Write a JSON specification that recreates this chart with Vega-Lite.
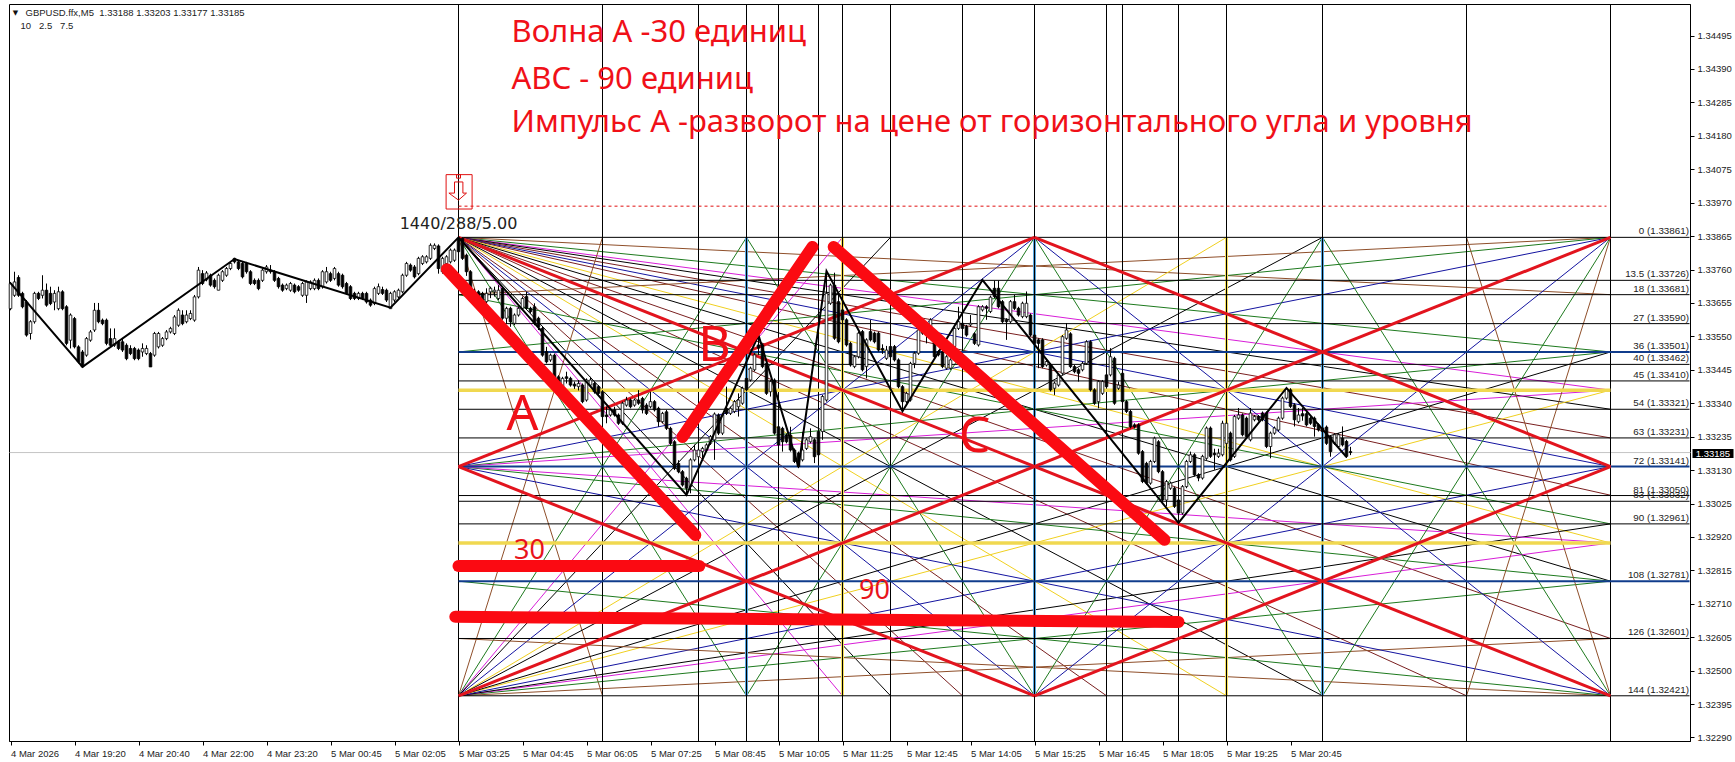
{"$schema":"https://vega.github.io/schema/vega-lite/v6.json","width":1681,"height":737,"autosize":"none","padding":{"left":9,"top":4,"right":45,"bottom":21},"background":"white","config":{"view":{"stroke":"#000","strokeWidth":1},"text":{"font":"Liberation Sans"}},
"datasets":{"rules":[
{"x":-112.25,"x2":308,"y":1.33185,"y2":1.33185,"k":"gray"},
{"x":0,"y":1.33861,"x2":288,"y2":1.33681,"k":"brown"},{"x":0,"y":1.33861,"x2":288,"y2":1.33501,"k":"green"},{"x":0,"y":1.33861,"x2":288,"y2":1.33381,"k":"magenta"},{"x":0,"y":1.33861,"x2":288,"y2":1.33321,"k":"black"},{"x":0,"y":1.33861,"x2":288,"y2":1.33231,"k":"maroon"},{"x":0,"y":1.33861,"x2":288,"y2":1.33141,"k":"blue"},{"x":0,"y":1.33861,"x2":288,"y2":1.33051,"k":"maroon"},{"x":0,"y":1.33861,"x2":288,"y2":1.32901,"k":"yellow"},{"x":0,"y":1.33861,"x2":288,"y2":1.32781,"k":"black"},{"x":0,"y":1.33861,"x2":288,"y2":1.32601,"k":"maroon"},
{"x":0,"y":1.33861,"x2":36,"y2":1.32421,"k":"brown"},{"x":0,"y":1.33861,"x2":72,"y2":1.32421,"k":"green"},{"x":0,"y":1.33861,"x2":96,"y2":1.32421,"k":"magenta"},{"x":0,"y":1.33861,"x2":108,"y2":1.32421,"k":"black"},{"x":0,"y":1.33861,"x2":126,"y2":1.32421,"k":"maroon"},{"x":0,"y":1.33861,"x2":144,"y2":1.32421,"k":"blue"},{"x":0,"y":1.33861,"x2":162,"y2":1.32421,"k":"maroon"},{"x":0,"y":1.33861,"x2":192,"y2":1.32421,"k":"yellow"},{"x":0,"y":1.33861,"x2":216,"y2":1.32421,"k":"black"},{"x":0,"y":1.33861,"x2":252,"y2":1.32421,"k":"maroon"},
{"x":0,"y":1.32421,"x2":36,"y2":1.33861,"k":"brown"},{"x":0,"y":1.32421,"x2":72,"y2":1.33861,"k":"green"},{"x":0,"y":1.32421,"x2":96,"y2":1.33861,"k":"magenta"},{"x":0,"y":1.32421,"x2":108,"y2":1.33861,"k":"black"},{"x":0,"y":1.32421,"x2":144,"y2":1.33861,"k":"blue"},{"x":0,"y":1.32421,"x2":192,"y2":1.33861,"k":"yellow"},{"x":0,"y":1.32421,"x2":216,"y2":1.33861,"k":"black"},
{"x":0,"y":1.32421,"x2":288,"y2":1.32601,"k":"brown"},{"x":0,"y":1.32421,"x2":288,"y2":1.32781,"k":"green"},{"x":0,"y":1.32421,"x2":288,"y2":1.32901,"k":"magenta"},{"x":0,"y":1.32421,"x2":288,"y2":1.32961,"k":"black"},{"x":0,"y":1.32421,"x2":288,"y2":1.33141,"k":"blue"},{"x":0,"y":1.32421,"x2":288,"y2":1.33381,"k":"yellow"},{"x":0,"y":1.32421,"x2":288,"y2":1.33501,"k":"black"},
{"x":0,"y":1.33141,"x2":288,"y2":1.33861,"k":"blue"},{"x":0,"y":1.33141,"x2":288,"y2":1.32421,"k":"blue"},{"x":0,"y":1.33141,"x2":288,"y2":1.33501,"k":"green"},{"x":0,"y":1.33141,"x2":288,"y2":1.32781,"k":"green"},{"x":0,"y":1.33141,"x2":288,"y2":1.33381,"k":"magenta"},{"x":0,"y":1.33141,"x2":288,"y2":1.32901,"k":"magenta"},
{"x":288,"y":1.33861,"x2":0,"y2":1.33681,"k":"brown"},{"x":288,"y":1.33861,"x2":0,"y2":1.33501,"k":"green"},{"x":288,"y":1.33861,"x2":144,"y2":1.32421,"k":"blue"},{"x":288,"y":1.33861,"x2":216,"y2":1.32421,"k":"green"},{"x":288,"y":1.33861,"x2":252,"y2":1.32421,"k":"brown"},
{"x":288,"y":1.32421,"x2":0,"y2":1.32601,"k":"brown"},{"x":288,"y":1.32421,"x2":0,"y2":1.32781,"k":"green"},{"x":288,"y":1.32421,"x2":144,"y2":1.33861,"k":"blue"},{"x":288,"y":1.32421,"x2":216,"y2":1.33861,"k":"green"},{"x":288,"y":1.32421,"x2":252,"y2":1.33861,"k":"brown"},
{"x":72,"y":1.33861,"x2":144,"y2":1.32421,"k":"green"},{"x":144,"y":1.33861,"x2":72,"y2":1.32421,"k":"green"},{"x":144,"y":1.33861,"x2":216,"y2":1.32421,"k":"green"},{"x":216,"y":1.33861,"x2":144,"y2":1.32421,"k":"green"},{"x":0,"y":1.33681,"x2":288,"y2":1.32961,"k":"green"},
{"x":72,"y":1.33861,"x2":72,"y2":1.32421,"k":"vblue"},{"x":144,"y":1.33861,"x2":144,"y2":1.32421,"k":"vblue"},{"x":216,"y":1.33861,"x2":216,"y2":1.32421,"k":"vblue"},{"x":96,"y":1.33861,"x2":96,"y2":1.32421,"k":"vyellow"},{"x":192,"y":1.33861,"x2":192,"y2":1.32421,"k":"vyellow"},
{"x":0,"y":1.34594,"x2":0,"y2":1.32279,"k":"black"},{"x":36,"y":1.34594,"x2":36,"y2":1.32279,"k":"black"},{"x":60,"y":1.34594,"x2":60,"y2":1.32279,"k":"black"},{"x":72,"y":1.34594,"x2":72,"y2":1.32279,"k":"black"},{"x":80,"y":1.34594,"x2":80,"y2":1.32279,"k":"black"},{"x":90,"y":1.34594,"x2":90,"y2":1.32279,"k":"black"},{"x":96,"y":1.34594,"x2":96,"y2":1.32279,"k":"black"},{"x":108,"y":1.34594,"x2":108,"y2":1.32279,"k":"black"},{"x":126,"y":1.34594,"x2":126,"y2":1.32279,"k":"black"},{"x":144,"y":1.34594,"x2":144,"y2":1.32279,"k":"black"},{"x":162,"y":1.34594,"x2":162,"y2":1.32279,"k":"black"},{"x":166,"y":1.34594,"x2":166,"y2":1.32279,"k":"black"},{"x":180,"y":1.34594,"x2":180,"y2":1.32279,"k":"black"},{"x":192,"y":1.34594,"x2":192,"y2":1.32279,"k":"black"},{"x":216,"y":1.34594,"x2":216,"y2":1.32279,"k":"black"},{"x":252,"y":1.34594,"x2":252,"y2":1.32279,"k":"black"},{"x":288,"y":1.34594,"x2":288,"y2":1.32279,"k":"black"},
{"x":0,"y":1.33381,"x2":288,"y2":1.33381,"k":"gold"},{"x":0,"y":1.32901,"x2":288,"y2":1.32901,"k":"gold"},
{"x":0,"y":1.33861,"x2":307.75,"y2":1.33861,"k":"black"},{"x":0,"y":1.33726,"x2":307.75,"y2":1.33726,"k":"black"},{"x":0,"y":1.33681,"x2":307.75,"y2":1.33681,"k":"black"},{"x":0,"y":1.33590,"x2":307.75,"y2":1.33590,"k":"black"},{"x":0,"y":1.33501,"x2":307.75,"y2":1.33501,"k":"navy"},{"x":0,"y":1.33462,"x2":307.75,"y2":1.33462,"k":"black"},{"x":0,"y":1.33410,"x2":307.75,"y2":1.33410,"k":"black"},{"x":0,"y":1.33321,"x2":307.75,"y2":1.33321,"k":"black"},{"x":0,"y":1.33231,"x2":307.75,"y2":1.33231,"k":"black"},{"x":0,"y":1.33141,"x2":307.75,"y2":1.33141,"k":"navy"},{"x":0,"y":1.33050,"x2":307.75,"y2":1.33050,"k":"black"},{"x":0,"y":1.33032,"x2":307.75,"y2":1.33032,"k":"black"},{"x":0,"y":1.32961,"x2":307.75,"y2":1.32961,"k":"black"},{"x":0,"y":1.32781,"x2":307.75,"y2":1.32781,"k":"navy"},{"x":0,"y":1.32601,"x2":307.75,"y2":1.32601,"k":"black"},{"x":0,"y":1.32421,"x2":307.75,"y2":1.32421,"k":"black"},
{"x":0,"y":1.33141,"x2":144,"y2":1.33861,"k":"red"},{"x":144,"y":1.33861,"x2":288,"y2":1.33141,"k":"red"},{"x":288,"y":1.33141,"x2":144,"y2":1.32421,"k":"red"},{"x":144,"y":1.32421,"x2":0,"y2":1.33141,"k":"red"},{"x":0,"y":1.33861,"x2":288,"y2":1.32421,"k":"red"},{"x":0,"y":1.32421,"x2":288,"y2":1.33861,"k":"red"}
],
"candles":[
{"x":-112,"o":1.33637,"h":1.33721,"l":1.33632,"c":1.33716},{"x":-111,"o":1.33679,"h":1.33753,"l":1.33674,"c":1.33721},{"x":-110,"o":1.33735,"h":1.33742,"l":1.33674,"c":1.33679},{"x":-109,"o":1.33685,"h":1.3369,"l":1.33638,"c":1.33643},{"x":-108,"o":1.33658,"h":1.33664,"l":1.33549,"c":1.33554},{"x":-107,"o":1.33559,"h":1.33601,"l":1.3354,"c":1.33596},{"x":-106,"o":1.33596,"h":1.3369,"l":1.3359,"c":1.33685},{"x":-105,"o":1.33685,"h":1.3369,"l":1.33664,"c":1.33669},{"x":-104,"o":1.33679,"h":1.33742,"l":1.33669,"c":1.33695},{"x":-103,"o":1.33695,"h":1.33716,"l":1.33643,"c":1.33648},{"x":-102,"o":1.33685,"h":1.33706,"l":1.33648,"c":1.33653},{"x":-101,"o":1.33658,"h":1.33695,"l":1.33632,"c":1.33685},{"x":-100,"o":1.33637,"h":1.33706,"l":1.33632,"c":1.3369},{"x":-99,"o":1.3369,"h":1.33695,"l":1.33632,"c":1.33637},{"x":-98,"o":1.33643,"h":1.33648,"l":1.33522,"c":1.33528},{"x":-97,"o":1.33538,"h":1.33622,"l":1.33512,"c":1.33617},{"x":-96,"o":1.33606,"h":1.33611,"l":1.33512,"c":1.33517},{"x":-95,"o":1.33517,"h":1.33522,"l":1.33465,"c":1.3347},{"x":-94,"o":1.33501,"h":1.33507,"l":1.33454,"c":1.33454},{"x":-93,"o":1.33491,"h":1.33548,"l":1.33486,"c":1.33543},{"x":-92,"o":1.33538,"h":1.3357,"l":1.33533,"c":1.33564},{"x":-91,"o":1.3357,"h":1.33655,"l":1.33564,"c":1.33632},{"x":-90,"o":1.33632,"h":1.33655,"l":1.33591,"c":1.33596},{"x":-89,"o":1.33601,"h":1.33606,"l":1.33585,"c":1.3359},{"x":-88,"o":1.33601,"h":1.33606,"l":1.33522,"c":1.33528},{"x":-87,"o":1.33543,"h":1.33575,"l":1.33517,"c":1.33522},{"x":-86,"o":1.33522,"h":1.33575,"l":1.33517,"c":1.33543},{"x":-85,"o":1.33533,"h":1.33538,"l":1.33507,"c":1.33512},{"x":-84,"o":1.33533,"h":1.33543,"l":1.33501,"c":1.33507},{"x":-83,"o":1.33522,"h":1.33528,"l":1.33475,"c":1.3348},{"x":-82,"o":1.33512,"h":1.33522,"l":1.33491,"c":1.33496},{"x":-81,"o":1.33512,"h":1.33517,"l":1.33475,"c":1.3348},{"x":-80,"o":1.33507,"h":1.33512,"l":1.33475,"c":1.3348},{"x":-79,"o":1.33501,"h":1.33528,"l":1.33486,"c":1.33512},{"x":-78,"o":1.33496,"h":1.33522,"l":1.33491,"c":1.33512},{"x":-77,"o":1.33496,"h":1.33501,"l":1.33454,"c":1.33454},{"x":-76,"o":1.33491,"h":1.33564,"l":1.33486,"c":1.33559},{"x":-75,"o":1.33517,"h":1.33564,"l":1.33512,"c":1.33559},{"x":-74,"o":1.33522,"h":1.33548,"l":1.33517,"c":1.33543},{"x":-73,"o":1.33543,"h":1.3357,"l":1.33538,"c":1.33564},{"x":-72,"o":1.33564,"h":1.3358,"l":1.33559,"c":1.33575},{"x":-71,"o":1.33559,"h":1.33617,"l":1.33554,"c":1.33611},{"x":-70,"o":1.33585,"h":1.33638,"l":1.3358,"c":1.33632},{"x":-69,"o":1.33617,"h":1.33632,"l":1.33585,"c":1.3359},{"x":-68,"o":1.33596,"h":1.33632,"l":1.33591,"c":1.33617},{"x":-67,"o":1.33606,"h":1.33632,"l":1.33601,"c":1.33622},{"x":-66,"o":1.33601,"h":1.3368,"l":1.33596,"c":1.33674},{"x":-65,"o":1.33674,"h":1.33768,"l":1.33669,"c":1.33758},{"x":-64,"o":1.33747,"h":1.33758,"l":1.33711,"c":1.33716},{"x":-63,"o":1.33728,"h":1.33755,"l":1.33723,"c":1.33749},{"x":-62,"o":1.33742,"h":1.33747,"l":1.33706,"c":1.33711},{"x":-61,"o":1.33726,"h":1.33732,"l":1.337,"c":1.33706},{"x":-60,"o":1.33695,"h":1.33747,"l":1.33695,"c":1.33742},{"x":-59,"o":1.33726,"h":1.33758,"l":1.33721,"c":1.33753},{"x":-58,"o":1.33742,"h":1.33768,"l":1.33737,"c":1.33763},{"x":-57,"o":1.33763,"h":1.33785,"l":1.33758,"c":1.33779},{"x":-56,"o":1.33795,"h":1.33797,"l":1.33779,"c":1.33784},{"x":-55,"o":1.33784,"h":1.3379,"l":1.33758,"c":1.33763},{"x":-54,"o":1.33779,"h":1.33784,"l":1.33732,"c":1.33737},{"x":-53,"o":1.33779,"h":1.33784,"l":1.33747,"c":1.33753},{"x":-52,"o":1.33753,"h":1.33758,"l":1.33711,"c":1.33716},{"x":-51,"o":1.33726,"h":1.33732,"l":1.33711,"c":1.33716},{"x":-50,"o":1.33726,"h":1.33732,"l":1.33695,"c":1.337},{"x":-49,"o":1.33726,"h":1.33763,"l":1.33721,"c":1.33758},{"x":-48,"o":1.33753,"h":1.33774,"l":1.33747,"c":1.33768},{"x":-47,"o":1.33758,"h":1.33774,"l":1.33747,"c":1.33753},{"x":-46,"o":1.33753,"h":1.33758,"l":1.33721,"c":1.33726},{"x":-45,"o":1.33732,"h":1.33737,"l":1.337,"c":1.33706},{"x":-44,"o":1.33711,"h":1.33716,"l":1.3369,"c":1.33695},{"x":-43,"o":1.337,"h":1.33716,"l":1.33695,"c":1.33711},{"x":-42,"o":1.33695,"h":1.33721,"l":1.3369,"c":1.33716},{"x":-41,"o":1.33711,"h":1.33716,"l":1.33685,"c":1.3369},{"x":-40,"o":1.33706,"h":1.33711,"l":1.3369,"c":1.33695},{"x":-39,"o":1.33679,"h":1.33721,"l":1.33674,"c":1.33716},{"x":-38,"o":1.33679,"h":1.33726,"l":1.33655,"c":1.33721},{"x":-37,"o":1.337,"h":1.33726,"l":1.33695,"c":1.33721},{"x":-36,"o":1.337,"h":1.33732,"l":1.33695,"c":1.33726},{"x":-35,"o":1.33726,"h":1.33732,"l":1.33695,"c":1.337},{"x":-34,"o":1.33706,"h":1.33758,"l":1.337,"c":1.33753},{"x":-33,"o":1.33721,"h":1.33768,"l":1.33716,"c":1.33753},{"x":-32,"o":1.33747,"h":1.33753,"l":1.33721,"c":1.33726},{"x":-31,"o":1.33732,"h":1.33768,"l":1.33726,"c":1.33763},{"x":-30,"o":1.33747,"h":1.33753,"l":1.33706,"c":1.33711},{"x":-29,"o":1.33742,"h":1.33747,"l":1.337,"c":1.33706},{"x":-28,"o":1.33716,"h":1.33721,"l":1.3368,"c":1.33685},{"x":-27,"o":1.33706,"h":1.33711,"l":1.33664,"c":1.33669},{"x":-26,"o":1.33685,"h":1.3369,"l":1.33664,"c":1.33669},{"x":-25,"o":1.33669,"h":1.3369,"l":1.33664,"c":1.33685},{"x":-24,"o":1.33685,"h":1.3369,"l":1.33664,"c":1.33669},{"x":-23,"o":1.33685,"h":1.3369,"l":1.33653,"c":1.33658},{"x":-22,"o":1.33664,"h":1.33669,"l":1.33643,"c":1.33648},{"x":-21,"o":1.33653,"h":1.33706,"l":1.33648,"c":1.337},{"x":-20,"o":1.33685,"h":1.33716,"l":1.3368,"c":1.33706},{"x":-19,"o":1.33697,"h":1.33706,"l":1.3368,"c":1.33685},{"x":-18,"o":1.33695,"h":1.337,"l":1.33658,"c":1.33664},{"x":-17,"o":1.33637,"h":1.3369,"l":1.33637,"c":1.33685},{"x":-16,"o":1.33664,"h":1.33695,"l":1.33658,"c":1.3369},{"x":-15,"o":1.33674,"h":1.337,"l":1.33669,"c":1.33695},{"x":-14,"o":1.3369,"h":1.33747,"l":1.33685,"c":1.33742},{"x":-13,"o":1.33742,"h":1.33784,"l":1.33737,"c":1.33779},{"x":-12,"o":1.33774,"h":1.33779,"l":1.33753,"c":1.33758},{"x":-11,"o":1.33768,"h":1.33774,"l":1.33732,"c":1.33737},{"x":-10,"o":1.33747,"h":1.338,"l":1.33742,"c":1.33795},{"x":-9,"o":1.33779,"h":1.33805,"l":1.33774,"c":1.338},{"x":-8,"o":1.33784,"h":1.33805,"l":1.33779,"c":1.338},{"x":-7,"o":1.33795,"h":1.33842,"l":1.3379,"c":1.33836},{"x":-6,"o":1.33826,"h":1.33842,"l":1.33821,"c":1.33836},{"x":-5,"o":1.33834,"h":1.33839,"l":1.33747,"c":1.33763},{"x":-4,"o":1.33753,"h":1.338,"l":1.33747,"c":1.33795},{"x":-3,"o":1.33779,"h":1.33805,"l":1.33774,"c":1.338},{"x":-2,"o":1.33784,"h":1.33826,"l":1.33779,"c":1.33821},{"x":-1,"o":1.33789,"h":1.33826,"l":1.33784,"c":1.33821},
{"x":0,"o":1.33858,"h":1.33861,"l":1.33806,"c":1.33816},{"x":1,"o":1.33858,"h":1.33861,"l":1.3379,"c":1.33795},{"x":2,"o":1.33805,"h":1.3381,"l":1.3374,"c":1.33753},{"x":3,"o":1.33753,"h":1.33758,"l":1.33696,"c":1.33701},{"x":4,"o":1.3369,"h":1.337,"l":1.3367,"c":1.33685},{"x":5,"o":1.3369,"h":1.33695,"l":1.33665,"c":1.33675},{"x":6,"o":1.33685,"h":1.3369,"l":1.3365,"c":1.33659},{"x":7,"o":1.33659,"h":1.33701,"l":1.33654,"c":1.33685},{"x":8,"o":1.3369,"h":1.33706,"l":1.3367,"c":1.33701},{"x":9,"o":1.3369,"h":1.33706,"l":1.33675,"c":1.33695},{"x":10,"o":1.33669,"h":1.33711,"l":1.33664,"c":1.33695},{"x":11,"o":1.33701,"h":1.33706,"l":1.33602,"c":1.33607},{"x":12,"o":1.33607,"h":1.33643,"l":1.3359,"c":1.33638},{"x":13,"o":1.33638,"h":1.33643,"l":1.3358,"c":1.33596},{"x":14,"o":1.33591,"h":1.33622,"l":1.33585,"c":1.33617},{"x":15,"o":1.33617,"h":1.33643,"l":1.33612,"c":1.33638},{"x":16,"o":1.33638,"h":1.33675,"l":1.33633,"c":1.33669},{"x":17,"o":1.33675,"h":1.3369,"l":1.33633,"c":1.33638},{"x":18,"o":1.33638,"h":1.33643,"l":1.33622,"c":1.33628},{"x":19,"o":1.33643,"h":1.33654,"l":1.33585,"c":1.33591},{"x":20,"o":1.33607,"h":1.33612,"l":1.3357,"c":1.3358},{"x":21,"o":1.33575,"h":1.3358,"l":1.33486,"c":1.33491},{"x":22,"o":1.33502,"h":1.33517,"l":1.33465,"c":1.3347},{"x":23,"o":1.33476,"h":1.33496,"l":1.3347,"c":1.33491},{"x":24,"o":1.33491,"h":1.33496,"l":1.33413,"c":1.33418},{"x":25,"o":1.33423,"h":1.33428,"l":1.33382,"c":1.33392},{"x":26,"o":1.33392,"h":1.33423,"l":1.33376,"c":1.33418},{"x":27,"o":1.33423,"h":1.33439,"l":1.33402,"c":1.33418},{"x":28,"o":1.33418,"h":1.33423,"l":1.33392,"c":1.33397},{"x":29,"o":1.334,"h":1.33408,"l":1.33385,"c":1.33394},{"x":30,"o":1.33392,"h":1.33413,"l":1.3338,"c":1.33402},{"x":31,"o":1.33397,"h":1.33402,"l":1.3334,"c":1.33345},{"x":32,"o":1.3335,"h":1.33418,"l":1.33345,"c":1.33413},{"x":33,"o":1.33397,"h":1.33423,"l":1.33392,"c":1.33413},{"x":34,"o":1.33402,"h":1.33408,"l":1.3337,"c":1.33376},{"x":35,"o":1.33392,"h":1.33397,"l":1.33366,"c":1.33371},{"x":36,"o":1.33376,"h":1.33381,"l":1.33293,"c":1.33298},{"x":37,"o":1.33303,"h":1.33329,"l":1.33277,"c":1.33298},{"x":38,"o":1.33303,"h":1.33324,"l":1.33298,"c":1.33319},{"x":39,"o":1.33319,"h":1.33329,"l":1.33298,"c":1.33303},{"x":40,"o":1.33303,"h":1.33308,"l":1.33272,"c":1.33277},{"x":41,"o":1.33277,"h":1.33345,"l":1.33272,"c":1.3334},{"x":42,"o":1.33334,"h":1.3336,"l":1.33329,"c":1.3335},{"x":43,"o":1.3335,"h":1.33355,"l":1.33324,"c":1.33329},{"x":44,"o":1.33334,"h":1.33355,"l":1.33329,"c":1.3335},{"x":45,"o":1.3335,"h":1.33381,"l":1.33335,"c":1.3334},{"x":46,"o":1.33355,"h":1.3336,"l":1.33308,"c":1.33319},{"x":47,"o":1.33334,"h":1.3334,"l":1.33303,"c":1.33308},{"x":48,"o":1.33329,"h":1.33376,"l":1.33324,"c":1.33345},{"x":49,"o":1.33345,"h":1.3335,"l":1.33314,"c":1.33319},{"x":50,"o":1.33324,"h":1.33329,"l":1.33266,"c":1.33282},{"x":51,"o":1.33282,"h":1.33313,"l":1.33277,"c":1.33308},{"x":52,"o":1.33313,"h":1.33319,"l":1.33256,"c":1.33261},{"x":53,"o":1.33261,"h":1.33266,"l":1.33208,"c":1.33214},{"x":54,"o":1.33219,"h":1.33224,"l":1.3313,"c":1.33135},{"x":55,"o":1.33151,"h":1.33161,"l":1.3312,"c":1.33125},{"x":56,"o":1.33125,"h":1.3313,"l":1.33078,"c":1.33083},{"x":57,"o":1.33104,"h":1.33109,"l":1.33057,"c":1.33073},{"x":58,"o":1.33078,"h":1.33167,"l":1.33057,"c":1.33162},{"x":59,"o":1.33162,"h":1.3321,"l":1.33157,"c":1.33193},
{"x":60,"o":1.33172,"h":1.33198,"l":1.33167,"c":1.33193},{"x":61,"o":1.33188,"h":1.33203,"l":1.3316,"c":1.33198},{"x":62,"o":1.33193,"h":1.33214,"l":1.33188,"c":1.33209},{"x":63,"o":1.33214,"h":1.3324,"l":1.33209,"c":1.33235},{"x":64,"o":1.33225,"h":1.33311,"l":1.33162,"c":1.33306},{"x":65,"o":1.33303,"h":1.33308,"l":1.3324,"c":1.33246},{"x":66,"o":1.33246,"h":1.33308,"l":1.3324,"c":1.33303},{"x":67,"o":1.33324,"h":1.33392,"l":1.33303,"c":1.33308},{"x":68,"o":1.33308,"h":1.33329,"l":1.33303,"c":1.33324},{"x":69,"o":1.33314,"h":1.3335,"l":1.33309,"c":1.33345},{"x":70,"o":1.33329,"h":1.33371,"l":1.33298,"c":1.3335},{"x":71,"o":1.3334,"h":1.33392,"l":1.33335,"c":1.33387},{"x":72,"o":1.33418,"h":1.33423,"l":1.33377,"c":1.33382},{"x":73,"o":1.33413,"h":1.33455,"l":1.33408,"c":1.3345},{"x":74,"o":1.33445,"h":1.33497,"l":1.3344,"c":1.33492},{"x":75,"o":1.33523,"h":1.33554,"l":1.33492,"c":1.33513},{"x":76,"o":1.33523,"h":1.33528,"l":1.3345,"c":1.33455},{"x":77,"o":1.33465,"h":1.3347,"l":1.33366,"c":1.33371},{"x":78,"o":1.33376,"h":1.33413,"l":1.33361,"c":1.33408},{"x":79,"o":1.33413,"h":1.33418,"l":1.33241,"c":1.33246},{"x":80,"o":1.33266,"h":1.33271,"l":1.33204,"c":1.33209},{"x":81,"o":1.33261,"h":1.33266,"l":1.33188,"c":1.33219},{"x":82,"o":1.3324,"h":1.33245,"l":1.33214,"c":1.33219},{"x":83,"o":1.3324,"h":1.33266,"l":1.33188,"c":1.33193},{"x":84,"o":1.33193,"h":1.33198,"l":1.33152,"c":1.33157},{"x":85,"o":1.33183,"h":1.33188,"l":1.33136,"c":1.33141},{"x":86,"o":1.33162,"h":1.3325,"l":1.33157,"c":1.33193},{"x":87,"o":1.33198,"h":1.3323,"l":1.33193,"c":1.33225},{"x":88,"o":1.33219,"h":1.33261,"l":1.33214,"c":1.33235},{"x":89,"o":1.33225,"h":1.3323,"l":1.33152,"c":1.33172},{"x":90,"o":1.33251,"h":1.33261,"l":1.33173,"c":1.33178},{"x":91,"o":1.33251,"h":1.33366,"l":1.33225,"c":1.33361},{"x":92,"o":1.3335,"h":1.33755,"l":1.33345,"c":1.33685},{"x":93,"o":1.33654,"h":1.33716,"l":1.33649,"c":1.33711},{"x":94,"o":1.33711,"h":1.3375,"l":1.33539,"c":1.33544},{"x":95,"o":1.33659,"h":1.3368,"l":1.33528,"c":1.33533},{"x":96,"o":1.33633,"h":1.33638,"l":1.33597,"c":1.33602},{"x":97,"o":1.33602,"h":1.33607,"l":1.33518,"c":1.33523},{"x":98,"o":1.33528,"h":1.33533,"l":1.33455,"c":1.3346},{"x":99,"o":1.33455,"h":1.33491,"l":1.3345,"c":1.33486},{"x":100,"o":1.33486,"h":1.33565,"l":1.33481,"c":1.3356},{"x":101,"o":1.33565,"h":1.3357,"l":1.3344,"c":1.33445},{"x":102,"o":1.33455,"h":1.33544,"l":1.33418,"c":1.33539},{"x":103,"o":1.33565,"h":1.33602,"l":1.33534,"c":1.33539},{"x":104,"o":1.3356,"h":1.33565,"l":1.33528,"c":1.33533},{"x":105,"o":1.3356,"h":1.33565,"l":1.33502,"c":1.33507},{"x":106,"o":1.33512,"h":1.33525,"l":1.33495,"c":1.33507},{"x":107,"o":1.33481,"h":1.3352,"l":1.33476,"c":1.33507},{"x":108,"o":1.33518,"h":1.33533,"l":1.33481,"c":1.33486},{"x":109,"o":1.33518,"h":1.33523,"l":1.33471,"c":1.33476},{"x":110,"o":1.33476,"h":1.33481,"l":1.33387,"c":1.33392},{"x":111,"o":1.33392,"h":1.33397,"l":1.33314,"c":1.33345},{"x":112,"o":1.33345,"h":1.33376,"l":1.3334,"c":1.33371},{"x":113,"o":1.3335,"h":1.3347,"l":1.33345,"c":1.33465},{"x":114,"o":1.33465,"h":1.33502,"l":1.3345,"c":1.33497},{"x":115,"o":1.33497,"h":1.33575,"l":1.33492,"c":1.3357},{"x":116,"o":1.33565,"h":1.33575,"l":1.33555,"c":1.3356},{"x":117,"o":1.33565,"h":1.3357,"l":1.33528,"c":1.33554},{"x":118,"o":1.33554,"h":1.33607,"l":1.33549,"c":1.33602},{"x":119,"o":1.33533,"h":1.33538,"l":1.33481,"c":1.33486},{"x":120,"o":1.33502,"h":1.33507,"l":1.33487,"c":1.33492},{"x":121,"o":1.33502,"h":1.33507,"l":1.3345,"c":1.33455},{"x":122,"o":1.3345,"h":1.33491,"l":1.33445,"c":1.33486},{"x":123,"o":1.3345,"h":1.33481,"l":1.33445,"c":1.33476},{"x":124,"o":1.33518,"h":1.3358,"l":1.33513,"c":1.33575},{"x":125,"o":1.33575,"h":1.33643,"l":1.3357,"c":1.33596},{"x":126,"o":1.33591,"h":1.33602,"l":1.3357,"c":1.33575},{"x":127,"o":1.33581,"h":1.33586,"l":1.33549,"c":1.33554},{"x":128,"o":1.33586,"h":1.33617,"l":1.33581,"c":1.33591},{"x":129,"o":1.33558,"h":1.33563,"l":1.33523,"c":1.33528},{"x":130,"o":1.33523,"h":1.33648,"l":1.33518,"c":1.33643},{"x":131,"o":1.33633,"h":1.33648,"l":1.33628,"c":1.33643},{"x":132,"o":1.33643,"h":1.33648,"l":1.33602,"c":1.33638},{"x":133,"o":1.33628,"h":1.33678,"l":1.33623,"c":1.33673},{"x":134,"o":1.33701,"h":1.33725,"l":1.3367,"c":1.33675},{"x":135,"o":1.33701,"h":1.33725,"l":1.33638,"c":1.33643},{"x":136,"o":1.33659,"h":1.33664,"l":1.33591,"c":1.33596},{"x":137,"o":1.33602,"h":1.33607,"l":1.33539,"c":1.33596},{"x":138,"o":1.33596,"h":1.33664,"l":1.33591,"c":1.33659},{"x":139,"o":1.33659,"h":1.3368,"l":1.33633,"c":1.33638},{"x":140,"o":1.33638,"h":1.33643,"l":1.33612,"c":1.33617},{"x":141,"o":1.33612,"h":1.33659,"l":1.33607,"c":1.33654},{"x":142,"o":1.33612,"h":1.33691,"l":1.33607,"c":1.33654},{"x":143,"o":1.33617,"h":1.33622,"l":1.33549,"c":1.33554},{"x":144,"o":1.33554,"h":1.33559,"l":1.33523,"c":1.33528},{"x":145,"o":1.33539,"h":1.33544,"l":1.3345,"c":1.33528},{"x":146,"o":1.33539,"h":1.33544,"l":1.3345,"c":1.33455},{"x":147,"o":1.3346,"h":1.33481,"l":1.33455,"c":1.33471},{"x":148,"o":1.3346,"h":1.33465,"l":1.33377,"c":1.33382},{"x":149,"o":1.33387,"h":1.33408,"l":1.33366,"c":1.33403},{"x":150,"o":1.33397,"h":1.33434,"l":1.33392,"c":1.33429},{"x":151,"o":1.33434,"h":1.33554,"l":1.33429,"c":1.33549},{"x":152,"o":1.33544,"h":1.33592,"l":1.33539,"c":1.3357},{"x":153,"o":1.33558,"h":1.33563,"l":1.3345,"c":1.33455},{"x":154,"o":1.33455,"h":1.3346,"l":1.33434,"c":1.33439},{"x":155,"o":1.33445,"h":1.3345,"l":1.33408,"c":1.33434},{"x":156,"o":1.33445,"h":1.3347,"l":1.3344,"c":1.33465},{"x":157,"o":1.33465,"h":1.33538,"l":1.3346,"c":1.33533},{"x":158,"o":1.33533,"h":1.33538,"l":1.33377,"c":1.33382},{"x":159,"o":1.33382,"h":1.33387,"l":1.33335,"c":1.3334},{"x":160,"o":1.33345,"h":1.33413,"l":1.33324,"c":1.33408},{"x":161,"o":1.33371,"h":1.33413,"l":1.33366,"c":1.33408},{"x":162,"o":1.33429,"h":1.33434,"l":1.33387,"c":1.33392},{"x":163,"o":1.33429,"h":1.33513,"l":1.33424,"c":1.33486},{"x":164,"o":1.33481,"h":1.33486,"l":1.33335,"c":1.3334},{"x":165,"o":1.33387,"h":1.33408,"l":1.33382,"c":1.33397},{"x":166,"o":1.33434,"h":1.33439,"l":1.3334,"c":1.33345},{"x":167,"o":1.33345,"h":1.3335,"l":1.33309,"c":1.33314},{"x":168,"o":1.33314,"h":1.33319,"l":1.33261,"c":1.33266},{"x":169,"o":1.33272,"h":1.33277,"l":1.33261,"c":1.33266},{"x":170,"o":1.33272,"h":1.33277,"l":1.33178,"c":1.33183},{"x":171,"o":1.33188,"h":1.33193,"l":1.33089,"c":1.33094},{"x":172,"o":1.33151,"h":1.33156,"l":1.33084,"c":1.33089},{"x":173,"o":1.33089,"h":1.33162,"l":1.33084,"c":1.33157},{"x":174,"o":1.33157,"h":1.33235,"l":1.33152,"c":1.3323},{"x":175,"o":1.33219,"h":1.33224,"l":1.3312,"c":1.33125},
{"x":176,"o":1.33125,"h":1.3313,"l":1.33031,"c":1.33036},{"x":177,"o":1.33036,"h":1.33099,"l":1.33016,"c":1.33094},{"x":178,"o":1.33073,"h":1.33094,"l":1.33068,"c":1.33089},{"x":179,"o":1.33073,"h":1.33078,"l":1.33011,"c":1.33016},{"x":180,"o":1.33036,"h":1.33041,"l":1.32975,"c":1.32995},{"x":181,"o":1.32995,"h":1.33083,"l":1.3299,"c":1.33078},{"x":182,"o":1.33078,"h":1.33162,"l":1.33073,"c":1.33157},{"x":183,"o":1.33157,"h":1.33188,"l":1.33152,"c":1.33178},{"x":184,"o":1.33178,"h":1.33183,"l":1.3311,"c":1.33115},{"x":185,"o":1.33115,"h":1.3312,"l":1.33095,"c":1.33105},{"x":186,"o":1.33105,"h":1.33178,"l":1.331,"c":1.33173},{"x":187,"o":1.33167,"h":1.33267,"l":1.33162,"c":1.33262},{"x":188,"o":1.33262,"h":1.33267,"l":1.33168,"c":1.33173},{"x":189,"o":1.33183,"h":1.33197,"l":1.33131,"c":1.33178},{"x":190,"o":1.33173,"h":1.33197,"l":1.33168,"c":1.33183},{"x":191,"o":1.33178,"h":1.33285,"l":1.33173,"c":1.33277},{"x":192,"o":1.33214,"h":1.33282,"l":1.33209,"c":1.33277},{"x":193,"o":1.33246,"h":1.33251,"l":1.33157,"c":1.33162},{"x":194,"o":1.33173,"h":1.33303,"l":1.33168,"c":1.33298},{"x":195,"o":1.33293,"h":1.33325,"l":1.33288,"c":1.33303},{"x":196,"o":1.33303,"h":1.33308,"l":1.33236,"c":1.33241},{"x":197,"o":1.33293,"h":1.33298,"l":1.3323,"c":1.33235},{"x":198,"o":1.33225,"h":1.33325,"l":1.3322,"c":1.33309},{"x":199,"o":1.33288,"h":1.33303,"l":1.33283,"c":1.33298},{"x":200,"o":1.33298,"h":1.33303,"l":1.33283,"c":1.33288},{"x":201,"o":1.33309,"h":1.33314,"l":1.33283,"c":1.33288},{"x":202,"o":1.33309,"h":1.33314,"l":1.33199,"c":1.33204},{"x":203,"o":1.33204,"h":1.33251,"l":1.33167,"c":1.33246},{"x":204,"o":1.33246,"h":1.33267,"l":1.33241,"c":1.33262},{"x":205,"o":1.33256,"h":1.33298,"l":1.33251,"c":1.33293},{"x":206,"o":1.33293,"h":1.33361,"l":1.33288,"c":1.33356},{"x":207,"o":1.33356,"h":1.33389,"l":1.33351,"c":1.33384},{"x":208,"o":1.33382,"h":1.33387,"l":1.33325,"c":1.3333},{"x":209,"o":1.33335,"h":1.3334,"l":1.33267,"c":1.33288},{"x":210,"o":1.33282,"h":1.33325,"l":1.33277,"c":1.33303},{"x":211,"o":1.33307,"h":1.33325,"l":1.33285,"c":1.333},{"x":212,"o":1.33307,"h":1.33312,"l":1.33267,"c":1.33272},{"x":213,"o":1.33293,"h":1.33298,"l":1.33272,"c":1.33277},{"x":214,"o":1.33293,"h":1.33298,"l":1.33235,"c":1.33267},{"x":215,"o":1.33272,"h":1.33277,"l":1.33251,"c":1.33256},{"x":216,"o":1.33262,"h":1.33267,"l":1.33246,"c":1.33251},{"x":217,"o":1.33265,"h":1.3327,"l":1.33209,"c":1.33214},{"x":218,"o":1.33235,"h":1.3324,"l":1.33172,"c":1.33188},{"x":219,"o":1.33214,"h":1.33246,"l":1.33209,"c":1.33241},{"x":220,"o":1.33204,"h":1.33246,"l":1.33199,"c":1.33241},{"x":221,"o":1.3323,"h":1.33267,"l":1.33204,"c":1.33209},{"x":222,"o":1.3322,"h":1.33225,"l":1.33168,"c":1.33173},{"x":223,"o":1.33188,"h":1.33203,"l":1.33177,"c":1.33185}
]},
"encoding":{"x":{"field":"x","type":"quantitative","title":null,"scale":{"domain":[-112.375,307.875],"nice":false,"zero":false,"padding":0},"axis":{"title":null,"grid":false,"values":[-112,-96,-80,-64,-48,-32,-16,0,16,32,48,64,80,96,112,128,144,160,176,192,208],"labelExpr":"{'-112':'4 Mar 2026','-96':'4 Mar 19:20','-80':'4 Mar 20:40','-64':'4 Mar 22:00','-48':'4 Mar 23:20','-32':'5 Mar 00:45','-16':'5 Mar 02:05','0':'5 Mar 03:25','16':'5 Mar 04:45','32':'5 Mar 06:05','48':'5 Mar 07:25','64':'5 Mar 08:45','80':'5 Mar 10:05','96':'5 Mar 11:25','112':'5 Mar 12:45','128':'5 Mar 14:05','144':'5 Mar 15:25','160':'5 Mar 16:45','176':'5 Mar 18:05','192':'5 Mar 19:25','208':'5 Mar 20:45'}[''+datum.value]","labelAlign":"left","labelFlush":false,"labelOverlap":false,"labelFont":"Liberation Sans","labelFontSize":9.5,"labelColor":"#222","labelPadding":3,"tickColor":"#000","tickSize":4,"domainColor":"#000"}},
"y":{"field":"y","type":"quantitative","title":null,"scale":{"domain":[1.32279,1.34594],"nice":false,"zero":false},"axis":{"title":null,"grid":false,"orient":"right","values":[1.34495,1.3439,1.34285,1.3418,1.34075,1.3397,1.33865,1.3376,1.33655,1.3355,1.33445,1.3334,1.33235,1.3313,1.33025,1.3292,1.32815,1.3271,1.32605,1.325,1.32395,1.3229],"format":".5f","labelFont":"Liberation Sans","labelFontSize":9.5,"labelColor":"#222","labelPadding":3,"labelOverlap":false,"labelFlush":false,"tickColor":"#000","tickSize":4,"domainColor":"#000"}}},
"layer":[
{"data":{"name":"rules"},"mark":{"type":"rule"},"encoding":{"x2":{"field":"x2"},"y2":{"field":"y2"},"color":{"field":"k","type":"nominal","legend":null,"scale":{"domain":["gray","brown","green","magenta","black","maroon","blue","yellow","vblue","vyellow","gold","navy","red"],"range":["#c4c4c4","#8f4f2a","#1e7a1e","#d81ed8","#000000","#7a2020","#1414a0","#f0d020","#5aa8e0","#f5e060","#f0d850","#103c8c","#e2141e"]}},"strokeWidth":{"field":"k","type":"nominal","legend":null,"scale":{"type":"ordinal","domain":["gray","brown","green","magenta","black","maroon","blue","yellow","vblue","vyellow","gold","navy","red"],"range":[1,1,1,1,1,1,1,1,3,3,3.5,2,3]}}}},
{"data":{"name":"candles"},"mark":{"type":"rule","color":"#000","strokeWidth":1},"encoding":{"y":{"field":"l","type":"quantitative","title":null,"scale":{"domain":[1.32279,1.34594],"nice":false,"zero":false}},"y2":{"field":"h"}}},
{"data":{"name":"candles"},"mark":{"type":"bar","orient":"vertical","width":2.6,"stroke":"#000","strokeWidth":0.8},"encoding":{"y":{"field":"o","type":"quantitative","title":null,"scale":{"domain":[1.32279,1.34594],"nice":false,"zero":false}},"y2":{"field":"c"},"fill":{"condition":{"test":"datum.o>datum.c","value":"#000"},"value":"#fff"}}},
{"data":{"values":[{"n":1,"x":-112,"y":1.33717},{"n":2,"x":-94,"y":1.33454},{"n":3,"x":-56,"y":1.33793},{"n":4,"x":-17,"y":1.3364},{"n":5,"x":0,"y":1.33861},{"n":6,"x":57,"y":1.33052},{"n":7,"x":75,"y":1.33554},{"n":8,"x":85,"y":1.3314},{"n":9,"x":92,"y":1.33755},{"n":10,"x":111,"y":1.33315},{"n":11,"x":131,"y":1.33727},{"n":12,"x":180,"y":1.32964},{"n":13,"x":207,"y":1.33388},{"n":14,"x":222,"y":1.33171}]},"mark":{"type":"line","color":"#000","strokeWidth":2},"encoding":{"order":{"field":"n","type":"quantitative"}}},
{"data":{"values":[{"x":0,"y":1.33959,"x2":287,"y2":1.33959}]},"mark":{"type":"rule","color":"#e01010","strokeWidth":1,"strokeDash":[3,3]},"encoding":{"x2":{"field":"x2"},"y2":{"field":"y2"}}},
{"data":{"values":[{"x":-3.1,"x2":3.4,"y":1.34058,"y2":1.3395},{"x":-0.5,"x2":0.5,"y":1.34058,"y2":1.34047}]},"mark":{"type":"rect","fill":null,"stroke":"#e01010","strokeWidth":1},"encoding":{"x2":{"field":"x2"},"y2":{"field":"y2"}}},
{"data":{"values":[{"n":1,"x":-1,"y":1.34035},{"n":2,"x":1.1,"y":1.34035},{"n":3,"x":1.1,"y":1.34},{"n":4,"x":2,"y":1.34},{"n":5,"x":0,"y":1.33978},{"n":6,"x":-2.4,"y":1.34},{"n":7,"x":-1,"y":1.34},{"n":8,"x":-1,"y":1.34035}]},"mark":{"type":"line","color":"#e01010","strokeWidth":1},"encoding":{"order":{"field":"n","type":"quantitative"}}},
{"data":{"values":[{"x":-2.9,"y":1.33761,"x2":59.2,"y2":1.32926},{"x":56,"y":1.33234,"x2":88.5,"y2":1.33831},{"x":93.8,"y":1.33831,"x2":176.5,"y2":1.32911},{"x":0,"y":1.32829,"x2":60.2,"y2":1.32829},{"x":-0.8,"y":1.32669,"x2":180,"y2":1.32653}]},"mark":{"type":"rule","color":"#fb0a12","strokeWidth":12,"strokeCap":"round"},"encoding":{"x2":{"field":"x2"},"y2":{"field":"y2"}}},
{"data":{"values":[{"x":13.25,"y":1.34503,"t":"Волна А -30 единиц"},{"x":13.25,"y":1.34355,"t":"АВС - 90 единиц"},{"x":13.25,"y":1.3422,"t":"Импульс А -разворот на цене от горизонтального угла и уровня"}]},"mark":{"type":"text","font":"Noto Sans","fontSize":31,"color":"#f01018","align":"left","baseline":"middle"},"encoding":{"text":{"field":"t"}}},
{"data":{"values":[{"x":16,"y":1.33303,"t":"A"},{"x":64,"y":1.3352,"t":"B"},{"x":129,"y":1.33234,"t":"C"}]},"mark":{"type":"text","font":"Noto Sans","fontSize":50,"color":"#f01018","align":"center","baseline":"middle"},"encoding":{"text":{"field":"t"}}},
{"data":{"values":[{"x":17.75,"y":1.32876,"t":"30"},{"x":104,"y":1.32751,"t":"90"}]},"mark":{"type":"text","font":"Noto Sans","fontSize":27,"color":"#e8141c","align":"center","baseline":"middle"},"encoding":{"text":{"field":"t"}}},
{"data":{"values":[{"x":-2,"t":". 0"},{"x":34,"t":". 18"},{"x":58,"t":". 30"},{"x":70,"t":". 36"},{"x":78,"t":". 40"},{"x":88,"t":". 45"},{"x":94,"t":". 48"},{"x":106,"t":". 54"},{"x":124,"t":". 63"},{"x":142,"t":". 72"},{"x":160,"t":". 81"},{"x":164,"t":". 83"},{"x":178,"t":". 90"},{"x":190,"t":". 96"},{"x":214,"t":". 108"},{"x":250,"t":". 126"},{"x":286,"t":". 144"}]},"mark":{"type":"text","font":"Liberation Sans","fontSize":9.5,"color":"#222","angle":270,"align":"left","baseline":"middle"},"encoding":{"y":{"datum":1.33969,"type":"quantitative","scale":{"domain":[1.32279,1.34594],"nice":false,"zero":false}},"text":{"field":"t"}}},
{"data":{"values":[{"x":307.6,"y":1.33861,"t":"0 (1.33861)"},{"x":307.6,"y":1.33726,"t":"13.5 (1.33726)"},{"x":307.6,"y":1.33681,"t":"18 (1.33681)"},{"x":307.6,"y":1.3359,"t":"27 (1.33590)"},{"x":307.6,"y":1.33501,"t":"36 (1.33501)"},{"x":307.6,"y":1.33462,"t":"40 (1.33462)"},{"x":307.6,"y":1.3341,"t":"45 (1.33410)"},{"x":307.6,"y":1.33321,"t":"54 (1.33321)"},{"x":307.6,"y":1.33231,"t":"63 (1.33231)"},{"x":307.6,"y":1.33141,"t":"72 (1.33141)"},{"x":307.6,"y":1.3305,"t":"81 (1.33050)"},{"x":307.6,"y":1.33032,"t":"83 (1.33032)"},{"x":307.6,"y":1.32961,"t":"90 (1.32961)"},{"x":307.6,"y":1.32781,"t":"108 (1.32781)"},{"x":307.6,"y":1.32601,"t":"126 (1.32601)"},{"x":307.6,"y":1.32421,"t":"144 (1.32421)"}]},"mark":{"type":"text","font":"Liberation Sans","fontSize":9.8,"color":"#222","align":"right","baseline":"bottom","dy":-1},"encoding":{"text":{"field":"t"}}},
{"data":{"values":[{"x":0,"y":1.33903,"t":"1440/288/5.00"}]},"mark":{"type":"text","font":"DejaVu Sans","fontSize":16,"color":"#222","align":"center","baseline":"middle"},"encoding":{"text":{"field":"t"}}},
{"data":{"values":[{"x":-108.25,"y":1.34567,"t":"GBPUSD.ffx,M5\u00a0\u00a01.33188 1.33203 1.33177 1.33185"},{"x":-109.5,"y":1.34524,"t":"10\u00a0\u00a0\u00a02.5\u00a0\u00a0\u00a07.5"}]},"mark":{"type":"text","font":"Liberation Sans","fontSize":9.5,"color":"#222","align":"left","baseline":"middle"},"encoding":{"text":{"field":"t"}}},
{"data":{"values":[{"x":-110.75,"y":1.34567,"t":"▼"}]},"mark":{"type":"text","font":"DejaVu Sans","fontSize":7,"color":"#111","align":"center","baseline":"middle"},"encoding":{"text":{"field":"t"}}},
{"data":{"values":[{"x":308.5,"x2":318.75,"y":1.33196,"y2":1.33168}]},"mark":{"type":"rect","fill":"#000"},"encoding":{"x2":{"field":"x2"},"y2":{"field":"y2"}}},
{"data":{"values":[{"x":313.6,"y":1.33182,"t":"1.33185"}]},"mark":{"type":"text","font":"Liberation Sans","fontSize":9.5,"color":"#fff","align":"center","baseline":"middle"},"encoding":{"text":{"field":"t"}}}
]}
